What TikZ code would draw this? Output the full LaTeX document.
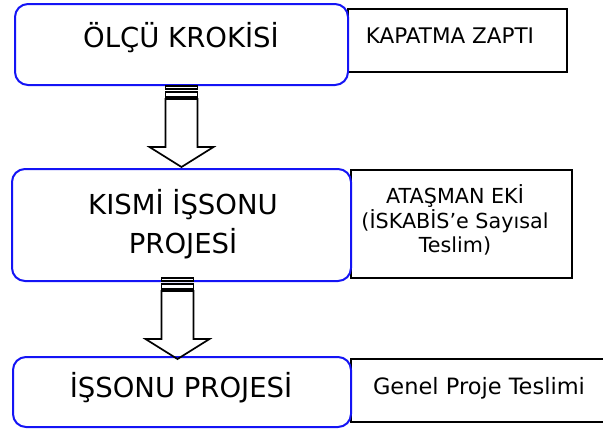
\documentclass[tikz,border=0pt]{standalone}
\usepackage{fontspec}
\setmainfont{DejaVu Sans}
\usetikzlibrary{calc}
\definecolor{frameblue}{RGB}{20,20,245}
\begin{document}
\begin{tikzpicture}[x=1pt,y=-1pt,
  stagebox/.style={draw=frameblue, line width=2pt, fill=white, rounded corners=13pt,
    rectangle, inner sep=0pt},
  notebox/.style={draw=black, line width=1.8pt, fill=white, rectangle, inner sep=0pt},
  bigtext/.style={font=\fontsize{27.5}{39}\selectfont, align=center, inner sep=0pt},
  smalltext/.style={font=\fontsize{21.5}{24.5}\selectfont, align=center, inner sep=0pt},
  blockarrow/.style={draw=black, line width=1.7pt, line join=miter},
  stripedarrow/.pic={
    \draw[blockarrow] (-16,0) rectangle (16,3);
    \draw[blockarrow] (-16,6) rectangle (16,11);
    \draw[blockarrow] (-16,13) -- (-16,61) -- (-32,61) -- (0,81) -- (32,61)
      -- (16,61) -- (16,13) -- cycle;
  }]
\path[use as bounding box, clip] (0,0) rectangle (603,429);

% side notes (drawn first, the stage boxes overlap their left edges)
\node[notebox, minimum width=219pt, minimum height=63pt] (n1) at (457.5,40.5) {};
\node[notebox, minimum width=221pt, minimum height=108pt] (n2) at (461.5,224) {};
\node[notebox, minimum width=290pt, minimum height=63pt] (n3) at (496,390.5) {};

% stage boxes
\node[stagebox, minimum width=333pt, minimum height=81pt] (b1) at (181.5,44.5) {};
\node[stagebox, minimum width=339pt, minimum height=112pt] (b2) at (181.5,225) {};
\node[stagebox, minimum width=338pt, minimum height=70pt] (b3) at (182,392) {};

% labels
\node[bigtext, anchor=base] (t1) at (181,47) {ÖLÇÜ KROKİSİ};
\node[bigtext] (t2) at (183,224) {KISMİ İŞSONU\\PROJESİ};
\node[bigtext, anchor=base] (t3) at (181,397) {İŞSONU PROJESİ};

\node[smalltext, anchor=base] (k1) at (450,43) {KAPATMA ZAPTI};
\node[smalltext, font=\fontsize{20.7}{24.5}\selectfont] (k2) at (455,220)
  {ATAŞMAN EKİ\\(İSKABİS’e Sayısal\\Teslim)};
\node[smalltext, font=\fontsize{22.5}{24.5}\selectfont, anchor=base] (k3) at (479,394)
  {Genel Proje Teslimi};

% striped block arrows between the stages
\coordinate (a1) at (b1.south);
\coordinate (a2) at ($(b2.south)+(-4,-4)$);
\pic at (a1) {stripedarrow};
\pic at (a2) {stripedarrow};
\end{tikzpicture}
\end{document}
